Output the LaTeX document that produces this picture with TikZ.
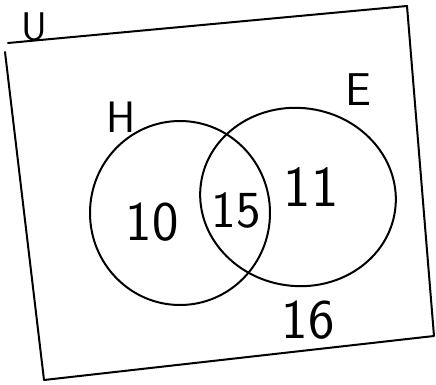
\documentclass[tikz,border=0pt]{standalone}
\usepackage{tikz}
\usetikzlibrary{positioning}

\begin{document}
\begin{tikzpicture}[x=1pt,y=-1pt,line width=2pt,line join=round,line cap=round]

\useasboundingbox (0,0) rectangle (436,385);

% Universe
\draw (8,43) -- (407,6) -- (434,336) -- (44,380) -- (5,52);
\node[font=\sffamily\fontsize{40}{40}\selectfont] (uset) at (34,27) {U};

% Set H
\draw (180,213) ellipse [x radius=90, y radius=92];
\node[font=\sffamily\fontsize{44}{44}\selectfont] (hset) at (121,117) {H};

% Set E
\draw[rotate around={-8:(298,197)}] (298,197) ellipse [x radius=98, y radius=89];
\node[font=\sffamily\fontsize{46}{46}\selectfont] (eset) at (358,90) {E};

% Counts
\node[font=\sffamily\fontsize{56}{56}\selectfont] (honly) at (152,222) {10};
\node[font=\sffamily\fontsize{52}{52}\selectfont] (both) at (236,210) {15};
\node[font=\sffamily\fontsize{58}{58}\selectfont] (eonly) at (311,187) {11};
\node[font=\sffamily\fontsize{56}{56}\selectfont] (neither) at (308,320) {16};

\end{tikzpicture}
\end{document}
